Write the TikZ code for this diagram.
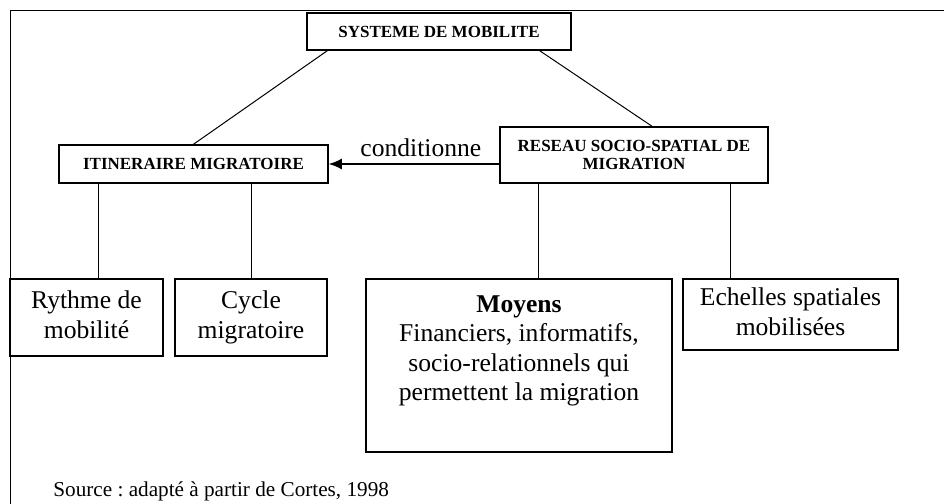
\documentclass[tikz,border=0pt]{standalone}
\usepackage{fontspec}
\setmainfont{Liberation Serif}
\usetikzlibrary{arrows.meta}

\begin{document}
\begin{tikzpicture}[x=0.5pt, y=-0.5pt,
    head/.style={rectangle, draw, line width=0.75pt, align=center, inner sep=0pt,
                 font=\bfseries\fontsize{8.5}{9}\selectfont},
    leaf/.style={rectangle, draw, line width=0.75pt, align=center, inner sep=0pt,
                 font=\fontsize{12.8}{14.75}\selectfont},
    link/.style={line width=0.5pt},
    arrow/.style={-{Latex[length=6.5pt,width=5.5pt]}, line width=0.9pt},
]
\useasboundingbox (0,0) rectangle (944,504);
% frame
\draw[link] (10,504) -- (10,10) -- (944,10);
% top
\node[head, minimum width=132pt, minimum height=18.5pt] (sys) at (439,31.5) {SYSTEME DE MOBILITE};
% middle
\node[head, minimum width=134.5pt, minimum height=19pt] (itin) at (193.5,164) {ITINERAIRE MIGRATOIRE};
\node[head, minimum width=134pt, minimum height=28pt] (res) at (634,155) {RESEAU SOCIO-SPATIAL DE\\MIGRATION};
% bottom
\node[leaf, minimum width=76.5pt, minimum height=38.5pt] (ryth) at (86.5,317.5) {Rythme de\strut\\mobilité\strut};
\node[leaf, minimum width=76pt, minimum height=38.5pt] (cyc) at (251,317.5) {Cycle\strut\\migratoire\strut};
\node[leaf, minimum width=153pt, minimum height=86.5pt] (moy) at (519,365.5)
    {\parbox[t][70pt][t]{150pt}{\centering\textbf{Moyens}\\Financiers, informatifs,\\socio-relationnels qui\\permettent la migration}};
\node[leaf, minimum width=107.5pt, minimum height=35.5pt] (ech) at (790.5,314.5) {Echelles spatiales\strut\\mobilisées\strut};
% source
\node[font=\frenchspacing\fontsize{10.6}{12}\selectfont, anchor=base west, inner sep=0pt] (src) at (53,496) {Source : adapté à partir de Cortes, 1998};

% links
\draw[link] ([xshift=10.5pt]sys.south west) -- (itin.north);
\draw[link] ([xshift=-16pt]sys.south east) -- ([xshift=9pt]res.north);
\draw[arrow] (res.west |- itin.east) -- node[above, pos=0.46, font=\fontsize{12.8}{14.75}\selectfont] (cond) {conditionne} (itin.east);
\draw[link] ([xshift=5.75pt]ryth.north) -- ([xshift=5.75pt]ryth.north |- itin.south);
\draw[link] (cyc.north) -- (cyc.north |- itin.south);
\draw[link] ([xshift=9.5pt]moy.north) -- ([xshift=9.5pt]moy.north |- res.south);
\draw[link] ([xshift=-30.25pt]ech.north) -- ([xshift=-30.25pt]ech.north |- res.south);
\end{tikzpicture}
\end{document}
